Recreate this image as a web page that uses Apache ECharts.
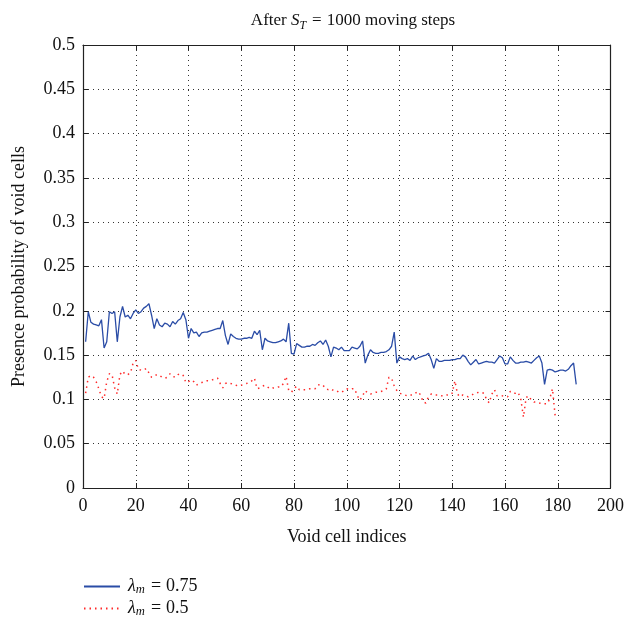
<!DOCTYPE html>
<html>
<head>
<meta charset="utf-8">
<script src="https://cdn.jsdelivr.net/npm/echarts@6/dist/echarts.min.js"></script>
<style>
  html, body { margin: 0; padding: 0; background: #fff; }
  #chart { width: 627px; height: 625px; }
</style>
</head>
<body>
<div id="chart"></div>
<script>
// void cell indices start at 1
var blueValues = [
  0.165, 0.199, 0.187, 0.185, 0.184, 0.183, 0.190, 0.158, 0.165, 0.199,
  0.197, 0.199, 0.165, 0.193, 0.205, 0.193, 0.195, 0.191, 0.197, 0.201,
  0.197, 0.199, 0.203, 0.205, 0.208, 0.195, 0.180, 0.191, 0.184, 0.182,
  0.186, 0.185, 0.182, 0.188, 0.185, 0.189, 0.191, 0.198, 0.190, 0.169,
  0.180, 0.175, 0.176, 0.171, 0.175, 0.176, 0.176, 0.177, 0.178, 0.179,
  0.180, 0.180, 0.189, 0.172, 0.162, 0.174, 0.171, 0.169, 0.168, 0.168,
  0.169, 0.169, 0.170, 0.169, 0.177, 0.173, 0.178, 0.156, 0.169, 0.166,
  0.165, 0.164, 0.164, 0.165, 0.166, 0.168, 0.165, 0.186, 0.152, 0.151,
  0.163, 0.161, 0.159, 0.159, 0.160, 0.160, 0.162, 0.161, 0.164, 0.166,
  0.162, 0.167, 0.160, 0.148, 0.159, 0.158, 0.156, 0.159, 0.155, 0.155,
  0.155, 0.159, 0.158, 0.157, 0.160, 0.166, 0.141, 0.150, 0.156, 0.153,
  0.152, 0.152, 0.153, 0.153, 0.154, 0.156, 0.160, 0.176, 0.141, 0.148,
  0.146, 0.145, 0.146, 0.144, 0.149, 0.145, 0.147, 0.148, 0.149, 0.150,
  0.152, 0.145, 0.135, 0.146, 0.143, 0.143, 0.144, 0.144, 0.144, 0.145,
  0.145, 0.146, 0.146, 0.150, 0.148, 0.143, 0.139, 0.142, 0.145, 0.140,
  0.141, 0.142, 0.143, 0.142, 0.142, 0.141, 0.145, 0.149, 0.147, 0.140,
  0.140, 0.148, 0.144, 0.141, 0.141, 0.142, 0.142, 0.143, 0.142, 0.141,
  0.144, 0.147, 0.149, 0.141, 0.117, 0.133, 0.134, 0.133, 0.131, 0.132,
  0.133, 0.133, 0.132, 0.134, 0.138, 0.141, 0.117
];
var redValues = [
  0.107, 0.125, 0.127, 0.125, 0.120, 0.112, 0.103, 0.101, 0.120, 0.129,
  0.128, 0.113, 0.106, 0.128, 0.132, 0.128, 0.128, 0.130, 0.141, 0.144,
  0.134, 0.133, 0.133, 0.135, 0.130, 0.125, 0.126, 0.128, 0.127, 0.125,
  0.124, 0.125, 0.129, 0.126, 0.125, 0.128, 0.129, 0.127, 0.119, 0.120,
  0.122, 0.120, 0.116, 0.118, 0.119, 0.120, 0.121, 0.121, 0.122, 0.123,
  0.124, 0.118, 0.113, 0.118, 0.119, 0.118, 0.117, 0.116, 0.115, 0.116,
  0.117, 0.118, 0.119, 0.121, 0.124, 0.112, 0.113, 0.115, 0.116, 0.114,
  0.112, 0.113, 0.113, 0.114, 0.114, 0.118, 0.126, 0.110, 0.108, 0.112,
  0.115, 0.111, 0.111, 0.111, 0.111, 0.112, 0.112, 0.112, 0.116, 0.117,
  0.116, 0.112, 0.111, 0.112, 0.110, 0.110, 0.108, 0.108, 0.110, 0.112,
  0.111, 0.112, 0.112, 0.104, 0.099, 0.104, 0.110, 0.107, 0.106, 0.107,
  0.108, 0.108, 0.109, 0.110, 0.112, 0.125, 0.124, 0.115, 0.110, 0.107,
  0.106, 0.105, 0.104, 0.105, 0.105, 0.107, 0.109, 0.105, 0.097, 0.096,
  0.103, 0.106, 0.105, 0.105, 0.105, 0.104, 0.104, 0.105, 0.105, 0.107,
  0.121, 0.106, 0.103, 0.105, 0.104, 0.103, 0.104, 0.106, 0.107, 0.108,
  0.108, 0.107, 0.100, 0.096, 0.106, 0.111, 0.104, 0.104, 0.104, 0.103,
  0.103, 0.109, 0.107, 0.107, 0.108, 0.100, 0.080, 0.102, 0.104, 0.099,
  0.097, 0.097, 0.096, 0.095, 0.095, 0.095, 0.101, 0.112, 0.082
];
var xTicks = { min: 0, max: 200, step: 20 };
var yTicks = { min: 0, max: 0.5, step: 0.05 };
var legendLabels = { blue: '0.75', red: '0.5' };

function toPairs(arr) {
  return arr.map(function (v, i) { return [i + 1, v]; });
}

var serif = '"Liberation Serif", "DejaVu Serif", serif';
var ink = '#111';
var frame = { show: true, onZero: false, lineStyle: { color: '#222', width: 1.2 } };
var inTick = { show: true, inside: true, length: 5, lineStyle: { color: '#222' } };
var dotted = { show: true, lineStyle: { type: [1, 4], color: '#333', width: 1 } };

function mathRich(size, lh, subPad, lead) {
  return {
    n: { fontFamily: serif, fontSize: size, fontWeight: 'normal', color: ink, lineHeight: lh },
    i: { fontFamily: serif, fontSize: size, fontWeight: 'normal', fontStyle: 'italic', color: ink, lineHeight: lh },
    l: { fontFamily: serif, fontSize: size, fontWeight: 'normal', fontStyle: 'italic', color: ink, lineHeight: lh, padding: [0, 0, 0, lead] },
    s: { fontFamily: serif, fontSize: size * 0.7, fontWeight: 'normal', fontStyle: 'italic', color: ink, padding: [subPad, 1, 0, 0], lineHeight: lh },
    e: { fontFamily: serif, fontSize: size, fontWeight: 'normal', color: ink, padding: [0, 5, 0, 5], lineHeight: lh }
  };
}

var chart = echarts.init(document.getElementById('chart'));
chart.setOption({
  animation: false,
  backgroundColor: '#fff',
  title: {
    text: '{n|After }{i|S}{s|T}{e|=}{n|1000 moving steps}',
    left: 348, top: 5, textAlign: 'center',
    textStyle: { fontWeight: 'normal', rich: mathRich(17, 22, 9, 0) }
  },
  grid: { left: 83, right: 16, top: 45, bottom: 137 },
  legend: {
    orient: 'vertical', left: 83, top: 577, padding: 0,
    itemWidth: 36, itemHeight: 10, itemGap: 3,
    itemStyle: { opacity: 0 },
    formatter: function (name) {
      return '{l|λ}{s|m}{e|=}{n|' + legendLabels[name] + '}';
    },
    textStyle: { rich: mathRich(18, 20, 6, 3) }
  },
  xAxis: [{
    type: 'value', min: xTicks.min, max: xTicks.max, interval: xTicks.step,
    name: 'Void cell indices', nameLocation: 'middle', nameGap: 40,
    nameTextStyle: { fontFamily: serif, fontSize: 18, color: ink },
    axisLine: frame, axisTick: inTick, splitLine: dotted,
    axisLabel: { fontFamily: serif, fontSize: 18, color: ink, margin: 9 }
  }, {
    type: 'value', position: 'top', min: xTicks.min, max: xTicks.max, interval: xTicks.step,
    axisLine: frame, axisTick: inTick, axisLabel: { show: false }, splitLine: { show: false }
  }],
  yAxis: [{
    type: 'value', min: yTicks.min, max: yTicks.max, interval: yTicks.step,
    name: 'Presence probability of void cells', nameLocation: 'middle', nameGap: 55,
    nameTextStyle: { fontFamily: serif, fontSize: 18, color: ink },
    axisLine: frame, axisTick: inTick, splitLine: dotted,
    axisLabel: {
      fontFamily: serif, fontSize: 18, color: ink, margin: 8,
      formatter: function (v) { return String(+v.toFixed(2)); }
    }
  }, {
    type: 'value', position: 'right', min: yTicks.min, max: yTicks.max, interval: yTicks.step,
    axisLine: frame, axisTick: inTick, axisLabel: { show: false }, splitLine: { show: false }
  }],
  series: [{
    name: 'blue', type: 'line', symbol: 'none', data: toPairs(blueValues),
    lineStyle: { color: '#2a4ca6', width: 1.3 }, itemStyle: { color: '#2a4ca6' }
  }, {
    name: 'red', type: 'line', symbol: 'none', data: toPairs(redValues),
    lineStyle: { color: '#ff2a2a', width: 1.5, type: [1.5, 4] }, itemStyle: { color: '#ff2a2a' }
  }]
});
</script>
</body>
</html>
